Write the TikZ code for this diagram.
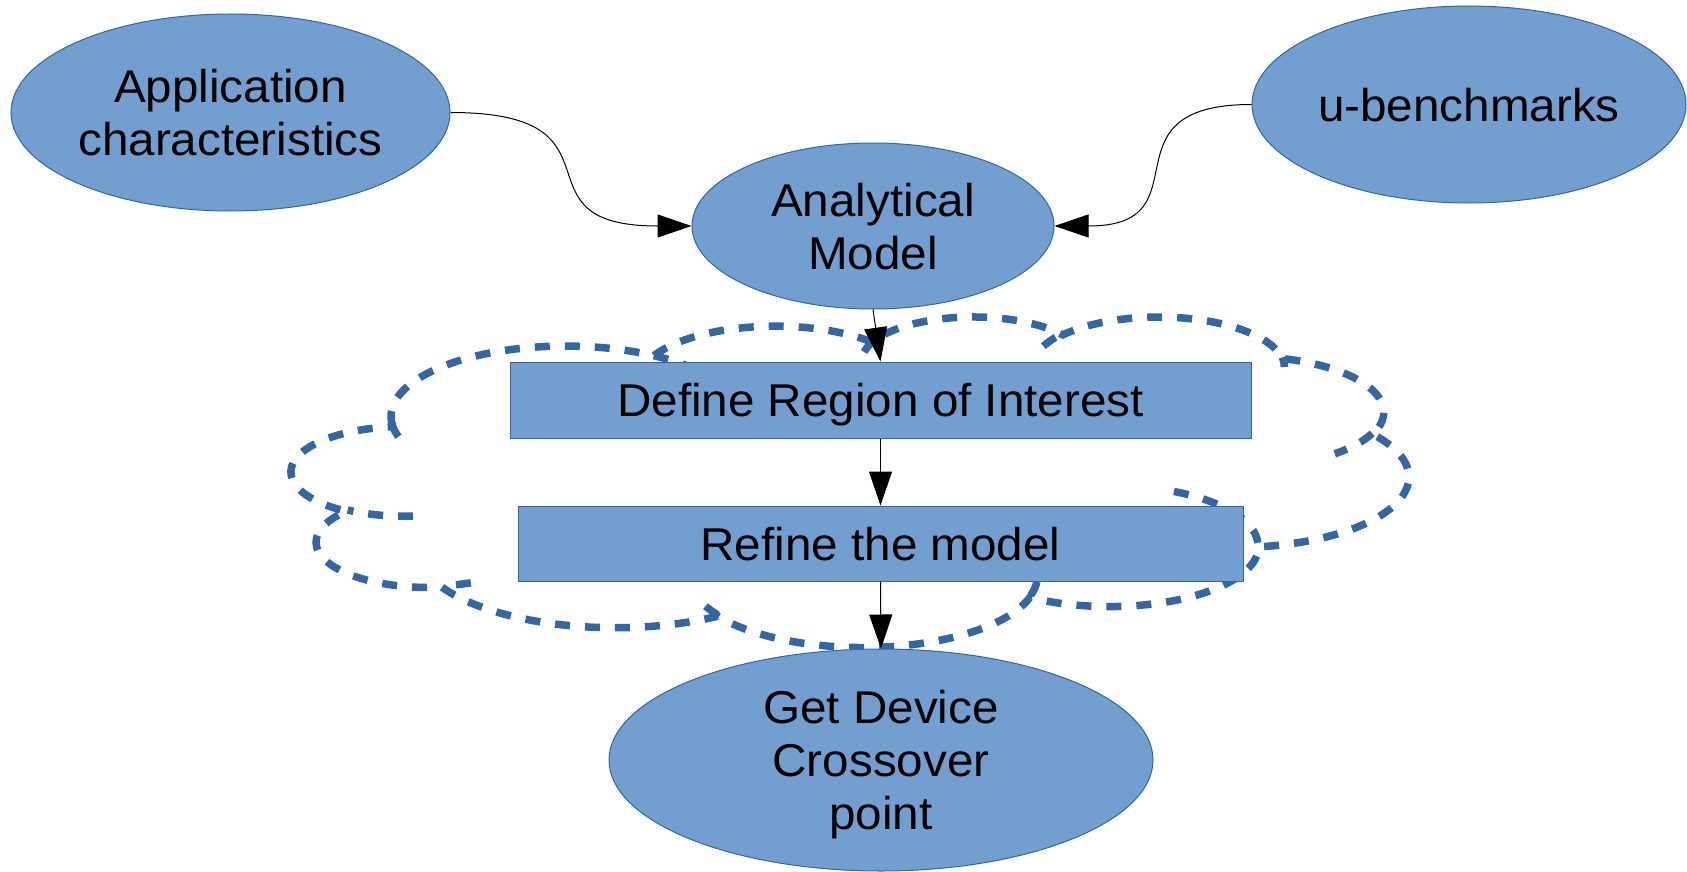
\documentclass[tikz,border=0pt]{standalone}
\usepackage{fontspec}
\setmainfont{Liberation Sans}[FakeStretch=1.035]
\usetikzlibrary{arrows.meta,shapes.geometric}
\definecolor{lofill}{HTML}{729FCF}
\definecolor{loline}{HTML}{3465A4}
% cloud frame (image px, y down), path units = 1/100 of OOXML units
\def\csx{2.5847}\def\csy{0.76481}\def\cfx{291.8}\def\cfy{315.9}
\newcommand\defarc[5]{%
  \pgfmathsetmacro\tmpa{atan2((#2)*sin(#4),(#3)*cos(#4))}%
  \pgfmathsetmacro\tmpb{atan2((#2)*sin((#4)+(#5)),(#3)*cos((#4)+(#5)))}%
  \pgfmathsetmacro\tmpb{(\tmpa)+mod((\tmpb)-(\tmpa)+720,360)}%
  \pgfmathsetmacro\tmprx{(#2)*\csx}%
  \pgfmathsetmacro\tmpry{(#3)*\csy}%
  \pgfmathsetmacro\tmpsa{-(\tmpa)}%
  \pgfmathsetmacro\tmpea{-(\tmpb)}%
  \edef\tmpdo{\noexpand\tikzset{#1/.style={start angle=\tmpsa,end angle=\tmpea,x radius=\tmprx pt,y radius=\tmpry pt}}}%
  \tmpdo}
\defarc{cldA1}{67.53}{91.90}{-190.4875}{123.7805}
\defarc{cldA2}{53.33}{72.67}{-144.1024}{89.9452}
\defarc{cldA3}{43.65}{59.45}{-145.8079}{99.7230}
\defarc{cldA4}{48.57}{65.95}{-130.9861}{117.2417}
\defarc{cldA5}{53.33}{72.73}{-78.7089}{109.0269}
\defarc{cldA6}{67.75}{92.20}{-46.2673}{130.2690}
\defarc{cldA7}{57.85}{78.67}{0.6250}{114.0333}
\defarc{cldA8}{67.52}{92.15}{22.4516}{115.1726}
\defarc{cldA9}{77.20}{105.43}{66.2426}{75.7110}
\defarc{cldA10}{43.60}{59.18}{-274.9421}{146.7356}
\defarc{cldA11}{43.45}{59.45}{-246.8285}{152.5189}
\defarc{cldH1}{43.45}{59.45}{86.742}{26.430}
\defarc{cldH2}{43.60}{59.18}{73.610}{11.447}
\defarc{cldH3}{67.52}{92.15}{137.624}{14.081}
\defarc{cldH4}{67.52}{92.15}{6.453}{15.998}
\defarc{cldH5}{57.85}{78.67}{-70.292}{66.726}
\defarc{cldH6}{53.33}{72.73}{30.318}{27.752}
\defarc{cldH7}{48.57}{65.95}{-13.744}{14.859}
\defarc{cldH8}{48.57}{65.95}{-149.181}{18.195}
\defarc{cldH9}{43.65}{59.45}{-163.494}{17.686}
\defarc{cldH10}{67.53}{91.90}{-66.707}{12.319}
\defarc{cldH11}{67.53}{91.90}{157.654}{11.858}
\newcommand\cldpt[3]{\coordinate (#1) at ({\cfx+(#2)*\csx},{-(\cfy+(#3)*\csy)});}
\tikzset{
  shapebase/.style={fill=lofill,draw=loline,line width=1pt,inner sep=0pt,
    font=\fontsize{46}{53}\selectfont,align=center,text depth=0pt},
  oval/.style={shapebase,ellipse},
  box/.style={shapebase,rectangle},
  conn/.style={draw=black,line width=1pt,-{Triangle[length=34pt,width=23pt]}},
  cloudline/.style={draw=loline,line width=7.5pt,dash pattern=on 15pt off 15pt}
}
\begin{document}
\begin{tikzpicture}[x=1pt,y=1pt]
\useasboundingbox (0,0) rectangle (1687,-872);
% cloud
\cldpt{cP0}{39.00}{143.70}
\cldpt{cH1}{46.93}{261.77}
\cldpt{cH2}{69.28}{348.99}
\cldpt{cH3}{164.78}{390.90}
\cldpt{cH4}{288.27}{347.51}
\cldpt{cH5}{341.29}{229.54}
\cldpt{cH6}{417.98}{153.54}
\cldpt{cH7}{383.24}{54.26}
\cldpt{cH8}{290.78}{39.52}
\cldpt{cH9}{221.41}{47.20}
\cldpt{cH10}{140.00}{51.92}
\cldpt{cH11}{41.27}{157.89}
\draw[cloudline] (cP0) arc[cldA1] arc[cldA2] arc[cldA3] arc[cldA4] arc[cldA5]
  arc[cldA6] arc[cldA7] arc[cldA8] arc[cldA9] arc[cldA10] arc[cldA11] -- cycle
  (cH1) arc[cldH1] (cH2) arc[cldH2] (cH3) arc[cldH3] (cH4) arc[cldH4]
  (cH5) arc[cldH5] (cH6) arc[cldH6] (cH7) arc[cldH7] (cH8) arc[cldH8]
  (cH9) arc[cldH9] (cH10) arc[cldH10] (cH11) arc[cldH11];
% nodes
\node[oval,minimum width=439pt,minimum height=197pt] (app) at (230.5,-112.5) {Application\\characteristics};
\node[oval,minimum width=362pt,minimum height=166pt] (ana) at (873,-226) {Analytical\\Model};
\node[oval,minimum width=434pt,minimum height=197pt] (ub) at (1469,-104.5) {u-benchmarks};
\node[box,minimum width=741pt,minimum height=76pt] (def) at (880.5,-400) {Define Region of Interest};
\node[box,minimum width=725pt,minimum height=75pt] (ref) at (880.5,-543.5) {Refine the model};
\node[oval,minimum width=544pt,minimum height=222pt] (get) at (881,-760) {Get Device\\Crossover\\point};
% connectors
\draw[conn] (app.east) .. controls +(185,0) and +(-185,0) .. (ana.west);
\draw[conn] (ub.west) .. controls +(-154,0) and +(154,0) .. (ana.east);
\draw[conn] (ana.south) -- (def.north);
\draw[conn] (def.south) -- (ref.north);
\draw[conn] (ref.south) -- (get.north);
\end{tikzpicture}
\end{document}
